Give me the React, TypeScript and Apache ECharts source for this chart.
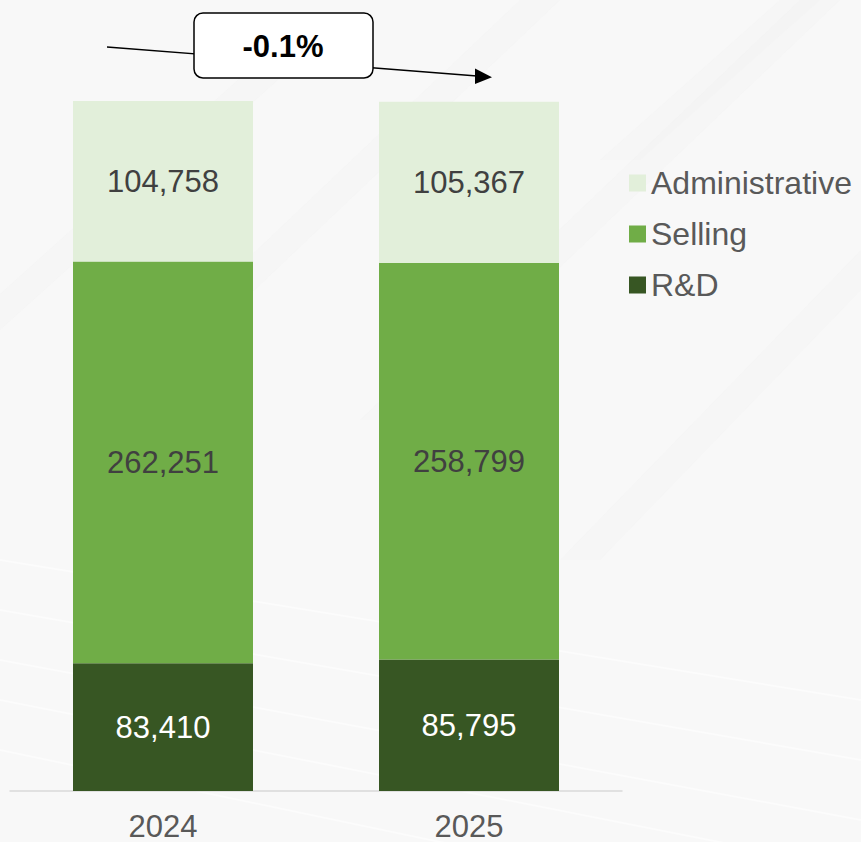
import React, { useEffect, useRef } from "react";
import * as echarts from "echarts";

const categories = ["2024", "2025"];
const rdValues = [83410, 85795];
const sellingValues = [262251, 258799];
const adminValues = [104758, 105367];
const changeLabel = "-0.1%";

const FONT = 'Arial, "Liberation Sans", sans-serif';

export default function App() {
  const ref = useRef<HTMLDivElement>(null);

  useEffect(() => {
    if (!ref.current) return;
    const chart = echarts.init(ref.current, null, { renderer: "svg" });
    const fmt = (p: any) => Number(p.value).toLocaleString("en-US");
    const labelBase = {
      show: true,
      position: "inside",
      fontSize: 31,
      fontFamily: FONT,
      formatter: fmt,
    };
    const stripes: any[] = [];
    // faint decorative background bands
    const upBands = [
      [[-40, 330], [260, 60], [300, 60], [0, 330]],
      [[120, 380], [520, 0], [560, 0], [160, 380]],
      [[360, 420], [800, 0], [840, 0], [400, 420]],
      [[560, 560], [861, 250], [861, 290], [600, 560]],
      [[600, 160], [780, 0], [820, 0], [640, 160]],
    ];
    upBands.forEach((pts) =>
      stripes.push({
        type: "polygon",
        shape: { points: pts },
        style: { fill: "rgba(238,239,240,0.25)" },
        silent: true,
        z: -10,
      })
    );
    const downLines = [
      [[0, 560], [861, 700]],
      [[0, 610], [861, 760]],
      [[0, 660], [861, 820]],
      [[0, 700], [861, 870]],
      [[0, 750], [861, 930]],
    ];
    downLines.forEach((pts) =>
      stripes.push({
        type: "polyline",
        shape: { points: pts },
        style: { stroke: "rgba(255,255,255,0.5)", lineWidth: 2, fill: "none" },
        silent: true,
        z: -10,
      })
    );

    chart.setOption({
      animation: false,
      backgroundColor: "#f8f8f8",
      grid: { left: 10, right: 239, top: 101, bottom: 51, containLabel: false },
      legend: {
        orient: "vertical",
        left: 624,
        top: 162,
        icon: "rect",
        itemWidth: 17,
        itemHeight: 17,
        itemGap: 19,
        data: ["Administrative", "Selling", "R&D"],
        textStyle: { fontSize: 32, fontFamily: FONT, color: "#595959", lineHeight: 32 },
      },
      xAxis: {
        type: "category",
        data: categories,
        axisLine: { show: true, lineStyle: { color: "#d9d9d9", width: 1.5 } },
        axisTick: { show: false },
        axisLabel: { fontSize: 31, fontFamily: FONT, color: "#595959", margin: 20 },
      },
      yAxis: {
        type: "value",
        min: 0,
        max: (v: any) => v.max,
        show: false,
        splitLine: { show: false },
      },
      series: [
        {
          name: "R&D",
          type: "bar",
          stack: "total",
          barWidth: 180,
          data: rdValues,
          itemStyle: { color: "#375623" },
          label: { ...labelBase, color: "#ffffff" },
        },
        {
          name: "Selling",
          type: "bar",
          stack: "total",
          barWidth: 180,
          data: sellingValues,
          itemStyle: { color: "#70ad47" },
          label: { ...labelBase, color: "#404040" },
        },
        {
          name: "Administrative",
          type: "bar",
          stack: "total",
          barWidth: 180,
          data: adminValues,
          itemStyle: { color: "#e2efda" },
          label: { ...labelBase, color: "#404040" },
        },
      ],
      graphic: [
        ...stripes,
        {
          type: "line",
          shape: { x1: 107, y1: 47, x2: 477, y2: 76 },
          style: { stroke: "#000000", lineWidth: 1.3 },
          z: 10,
        },
        {
          type: "polygon",
          shape: { points: [[475, 68.5], [492, 77.3], [475, 84]] },
          style: { fill: "#000000" },
          z: 10,
        },
        {
          type: "rect",
          shape: { x: 194, y: 13, width: 179, height: 65, r: 9 },
          style: { fill: "#ffffff", stroke: "#000000", lineWidth: 1.5 },
          z: 11,
        },
        {
          type: "text",
          x: 283,
          y: 46,
          style: {
            text: changeLabel,
            fontSize: 31,
            fontWeight: "bold",
            fontFamily: FONT,
            fill: "#000000",
            align: "center",
            verticalAlign: "middle",
          },
          z: 12,
        },
      ],
    });
    return () => chart.dispose();
  }, []);

  return (
    <div
      ref={ref}
      style={{ position: "fixed", left: 0, top: 0, width: 861, height: 842 }}
    />
  );
}
